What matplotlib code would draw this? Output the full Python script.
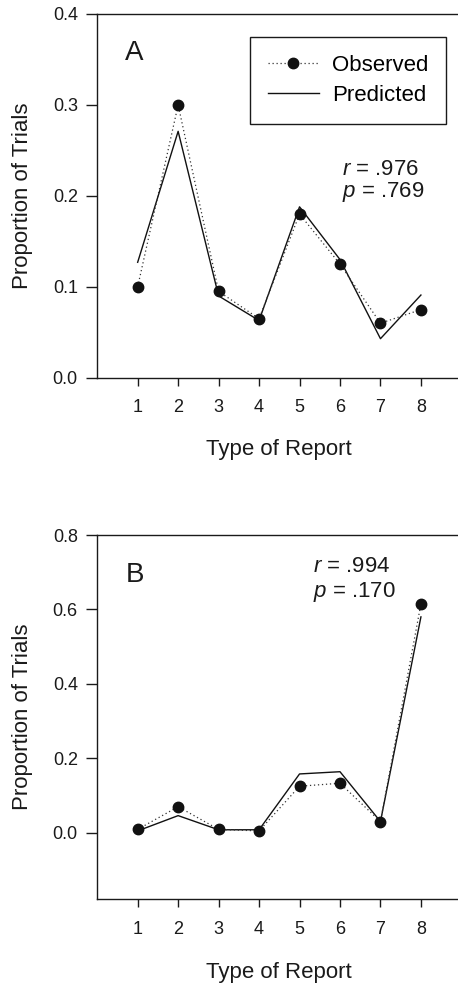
import matplotlib
matplotlib.use("Agg")
import matplotlib.pyplot as plt

plt.rcParams['font.family'] = ['Liberation Sans', 'DejaVu Sans']
plt.rcParams['mathtext.fontset'] = 'custom'
plt.rcParams['mathtext.it'] = 'Liberation Sans:italic'

report_types = [1, 2, 3, 4, 5, 6, 7, 8]

obs_A = [0.100, 0.300, 0.095, 0.065, 0.180, 0.125, 0.060, 0.075]
pred_A = [0.127, 0.271, 0.090, 0.063, 0.188, 0.130, 0.043, 0.091]
obs_B = [0.009, 0.070, 0.009, 0.005, 0.125, 0.133, 0.030, 0.615]
pred_B = [0.005, 0.046, 0.008, 0.008, 0.158, 0.164, 0.030, 0.580]

yticks_A = [0.0, 0.1, 0.2, 0.3, 0.4]
yticks_B = [0.0, 0.2, 0.4, 0.6, 0.8]
stats_A = ("976", "769")
stats_B = ("994", "170")

W, H = 458, 983
fig = plt.figure(figsize=(W / 100, H / 100), dpi=100)

left = 97.2 / W
width = 364.2 / W
axA = fig.add_axes([left, 1 - 377.8 / H, width, 363.8 / H])
axB = fig.add_axes([left, 1 - 899 / H, width, 364 / H])

INK = '#1a1a1a'


def style(ax, yticks, ylim):
    ax.set_xlim(0, 9)
    ax.set_ylim(*ylim)
    ax.set_xticks(report_types)
    ax.set_yticks(yticks)
    ax.set_yticklabels([f"{t:.1f}" for t in yticks])
    ax.spines['right'].set_visible(False)
    for s in ['left', 'top', 'bottom']:
        ax.spines[s].set_linewidth(1.0)
        ax.spines[s].set_color(INK)
    ax.tick_params(axis='y', direction='out', length=8, width=1.0, pad=6,
                   labelsize=13, colors=INK)
    ax.tick_params(axis='x', direction='out', length=6, width=1.0, pad=9.5,
                   labelsize=13, colors=INK)
    ax.set_xlabel("Type of Report", fontsize=16, color=INK)
    ax.set_ylabel("Proportion of Trials", fontsize=16, color=INK)
    ax.yaxis.set_label_coords(-0.176, 0.5)


def draw(ax, obs, pred):
    ax.plot(report_types, obs, linestyle=(0, (1, 2.2)), color='#333333',
            linewidth=0.9, marker='o', markersize=7.5,
            markerfacecolor='#111111', markeredgecolor='#111111',
            label='Observed', zorder=3)
    ax.plot(report_types, pred, linestyle='-', color='#111111',
            linewidth=1.0, label='Predicted', zorder=2)


style(axA, yticks_A, (0.0, 0.4))
draw(axA, obs_A, pred_A)
axA.xaxis.set_label_coords(0.5, -0.169)
axA.text(0.076, 0.8736, "A", transform=axA.transAxes, fontsize=20,
         ha='left', va='baseline', color=INK)
axA.text(0.673, 0.557, r"$r$ = ." + stats_A[0], transform=axA.transAxes,
         fontsize=16, ha='left', va='baseline', color=INK)
axA.text(0.673, 0.498, r"$p$ = ." + stats_A[1], transform=axA.transAxes,
         fontsize=16, ha='left', va='baseline', color=INK)
leg = axA.legend(loc='upper left', bbox_to_anchor=(0.4196, 0.9368),
                 borderaxespad=0, fontsize=16, frameon=True, fancybox=False,
                 edgecolor=INK, handlelength=2.3, handletextpad=0.6,
                 borderpad=0.8, labelspacing=0.42, framealpha=1)
leg.get_frame().set_linewidth(1.0)

style(axB, yticks_B, (-0.178, 0.8))
draw(axB, obs_B, pred_B)
axB.xaxis.set_label_coords(0.5, -0.174)
axB.text(0.079, 0.8717, "B", transform=axB.transAxes, fontsize=20,
         ha='left', va='baseline', color=INK)
axB.text(0.593, 0.899, r"$r$ = ." + stats_B[0], transform=axB.transAxes,
         fontsize=16, ha='left', va='baseline', color=INK)
axB.text(0.593, 0.830, r"$p$ = ." + stats_B[1], transform=axB.transAxes,
         fontsize=16, ha='left', va='baseline', color=INK)

fig.savefig("out.png", dpi=100)
